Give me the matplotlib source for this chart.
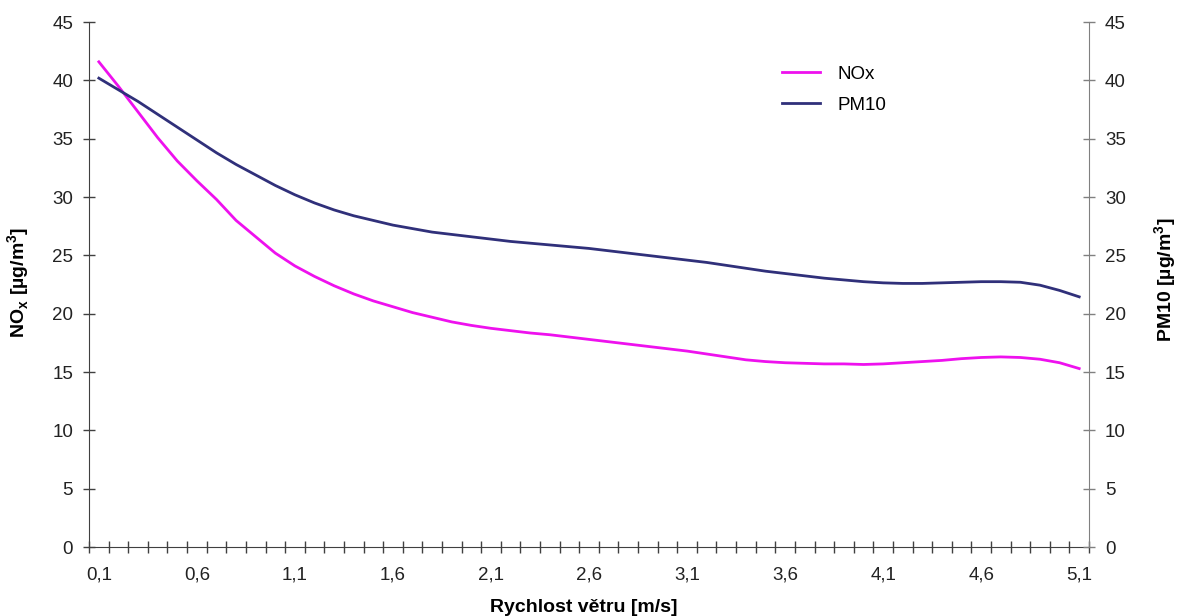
"""
plot.py
NOx and PM10 concentration vs. wind speed (two y axes).
"""

import numpy as np
import matplotlib.pyplot as plt
from matplotlib.ticker import FixedLocator, NullFormatter

plt.rcParams["font.family"] = ["Liberation Sans", "DejaVu Sans"]
plt.rcParams["mathtext.fontset"] = "custom"
plt.rcParams["mathtext.rm"] = "Liberation Sans"
plt.rcParams["mathtext.bf"] = "Liberation Sans:bold"

# wind speed categories 0,1 ... 5,1 m/s
wind_speed = [round(0.1 + 0.1 * i, 1) for i in range(51)]

nox = [41.6, 39.5, 37.3, 35.1, 33.1, 31.4, 29.8, 28.0, 26.6, 25.2,
       24.1, 23.2, 22.4, 21.7, 21.1, 20.6, 20.1, 19.7, 19.3, 19.0,
       18.75, 18.55, 18.35, 18.2, 18.0, 17.8, 17.6, 17.4, 17.2, 17.0,
       16.8, 16.55, 16.3, 16.05, 15.9, 15.8, 15.75, 15.7, 15.7, 15.65,
       15.7, 15.8, 15.9, 16.0, 16.15, 16.25, 16.3, 16.25, 16.1, 15.8,
       15.3]

pm10 = [40.2, 39.2, 38.2, 37.1, 36.0, 34.9, 33.8, 32.8, 31.9, 31.0,
        30.2, 29.5, 28.9, 28.4, 28.0, 27.6, 27.3, 27.0, 26.8, 26.6,
        26.4, 26.2, 26.05, 25.9, 25.75, 25.6, 25.4, 25.2, 25.0, 24.8,
        24.6, 24.4, 24.15, 23.9, 23.65, 23.45, 23.25, 23.05, 22.9, 22.75,
        22.65, 22.6, 22.6, 22.65, 22.7, 22.75, 22.75, 22.7, 22.45, 22.0,
        21.45]

y_ticks = list(range(0, 46, 5))

NOX_COLOR = "#ee11ee"
PM_COLOR = "#30307a"
AX_COLOR = "#404040"
FS_TICK = 13.5
FS_LABEL = 14


def main():
    fig = plt.figure(figsize=(11.81, 6.16), dpi=100)
    ax = fig.add_axes([0.0754, 0.112, 0.8467, 0.852])
    ax2 = ax.twinx()

    x = np.arange(len(wind_speed))

    line1, = ax.plot(x, nox, color=NOX_COLOR, lw=2, label="NOx")
    line2, = ax2.plot(x, pm10, color=PM_COLOR, lw=2, label="PM10")

    for a in (ax, ax2):
        a.set_xlim(-0.5, len(wind_speed) - 0.5)
        a.set_ylim(0, 45)
        a.set_yticks(y_ticks)
        a.spines["top"].set_visible(False)

    # category axis: ticks between categories, labels every 5th category
    ax.xaxis.set_major_locator(FixedLocator(np.arange(-0.5, len(wind_speed), 1.0)))
    ax.xaxis.set_major_formatter(NullFormatter())
    label_pos = x[::5]
    ax.xaxis.set_minor_locator(FixedLocator(label_pos))
    ax.set_xticklabels([f"{wind_speed[i]:.1f}".replace(".", ",") for i in label_pos],
                       minor=True)
    ax.tick_params(axis="x", which="major", direction="inout", length=9,
                   width=1, color=AX_COLOR)
    ax.tick_params(axis="x", which="minor", length=0, pad=14,
                   labelsize=FS_TICK, labelcolor="#222222")

    ax.tick_params(axis="y", direction="inout", length=9, width=1,
                   color=AX_COLOR, labelsize=FS_TICK, labelcolor="#222222",
                   pad=7)
    ax2.tick_params(axis="y", direction="inout", length=9, width=1,
                    color="#808080", labelsize=FS_TICK, labelcolor="#222222",
                    pad=7)

    ax.spines["left"].set_color(AX_COLOR)
    ax.spines["bottom"].set_color(AX_COLOR)
    ax.spines["right"].set_visible(False)
    ax2.spines["left"].set_visible(False)
    ax2.spines["bottom"].set_visible(False)
    ax2.spines["right"].set_color("#808080")

    # axis titles
    fig.text(584 / 1181, 1 - 607 / 616, "Rychlost větru [m/s]", ha="center",
             va="center", fontsize=FS_LABEL, fontweight="bold")
    fig.text(19 / 1181, 1 - 282 / 616, r"NO$_{\mathbf{x}}$ [µg/m$^{\mathbf{3}}$]",
             rotation=90, ha="center", va="center", fontsize=FS_LABEL,
             fontweight="bold")
    fig.text(1166 / 1181, 1 - 280 / 616, r"PM10 [µg/m$^{\mathbf{3}}$]",
             rotation=90, ha="center", va="center", fontsize=FS_LABEL,
             fontweight="bold")

    ax2.legend(handles=[line1, line2], loc="upper left",
               bbox_to_anchor=(0.6765, 0.949), frameon=False, fontsize=FS_TICK,
               handlelength=2.0, handletextpad=0.95, labelspacing=0.72)

    plt.savefig("out.png", dpi=100)
    plt.close()


if __name__ == "__main__":
    main()
